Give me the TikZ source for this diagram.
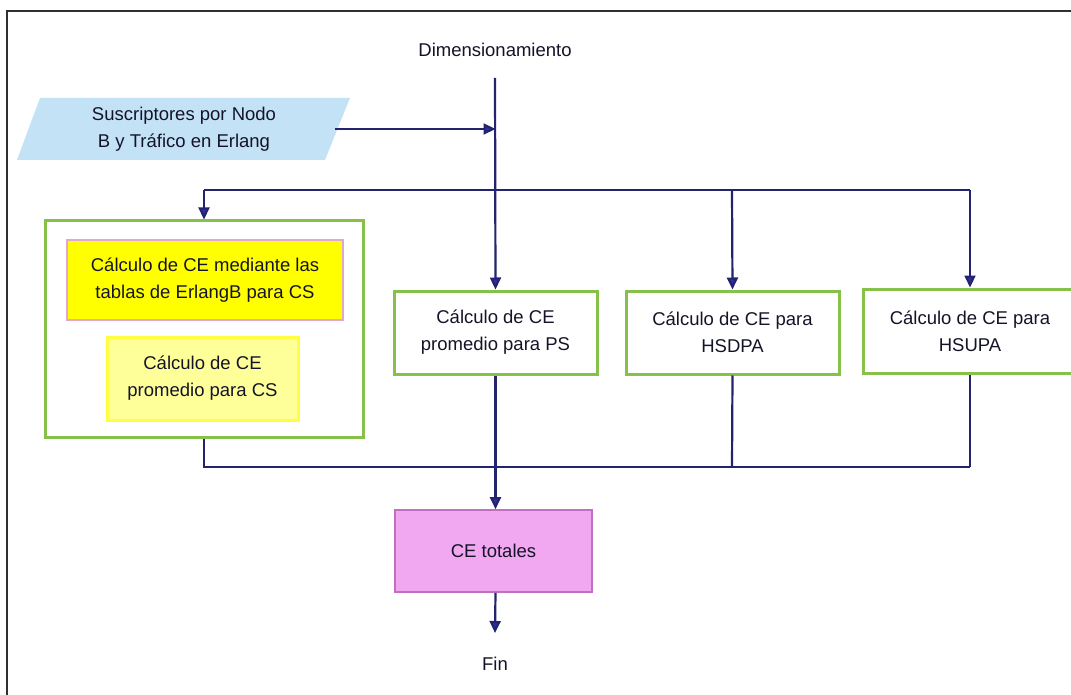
\documentclass[tikz,border=0pt]{standalone}
\usepackage{fontspec}
\setmainfont{Liberation Sans}
\usetikzlibrary{arrows.meta}

\definecolor{wire}{HTML}{23236E}
\definecolor{tipblue}{HTML}{2E2EA0}
\definecolor{txt}{HTML}{141428}
\definecolor{boxgreen}{HTML}{86C24A}
\definecolor{inputblue}{HTML}{C4E2F6}
\definecolor{ylwstrong}{HTML}{FFFF00}
\definecolor{ylwpale}{HTML}{FFFF99}
\definecolor{ylwedge}{HTML}{FFFF40}
\definecolor{pinkedge}{HTML}{E0A8D0}
\definecolor{violetfill}{HTML}{F2A8F0}
\definecolor{violetedge}{HTML}{C070C0}
\definecolor{framegray}{HTML}{303030}

\tikzset{
  every node/.style={font=\fontsize{18.5}{27}\selectfont, text=txt, align=center, inner sep=0pt},
  wireline/.style={draw=wire, line width=2.2pt},
  flow/.style={wireline, -{Triangle[length=12pt,width=11pt,fill=tipblue]}},
  procbox/.style={draw=boxgreen, line width=3pt, fill=white},
  calcstrong/.style={draw=pinkedge, line width=2.4pt, fill=ylwstrong},
  calcpale/.style={draw=ylwedge, line width=3pt, fill=ylwpale},
  totalbox/.style={draw=violetedge, line width=1.6pt, fill=violetfill},
  plainlabel/.style={},
}

\begin{document}
\begin{tikzpicture}[x=1pt,y=-1pt]
  % page extent
  \useasboundingbox (0,0) rectangle (1071,695);
  \fill[white] (0,0) rectangle (1071,695);

  % outer frame (top and left rules)
  \draw[framegray, line width=2.2pt] (7,695) -- (7,11) -- (1071,11);

  % start label
  \node[plainlabel] (dim) at (495,50) {Dimensionamiento};

  % input parallelogram
  \fill[inputblue] (40,98) -- (350,98) -- (325,160) -- (17,160) -- cycle;
  \node[minimum width=302pt, minimum height=50pt] (subs) at (184,129)
    {Suscriptores por Nodo\\B y Tráfico en Erlang};

  % CS group
  \node[procbox, minimum width=318pt, minimum height=216pt] (cs) at (204,329) {};
  \node[calcstrong, minimum width=276pt, minimum height=80pt] (erlb) at (205,280)
    {Cálculo de CE mediante las\\tablas de ErlangB para CS};
  \node[calcpale, minimum width=191pt, minimum height=83pt] (cspr) at (202.5,378.5)
    {Cálculo de CE\\promedio para CS};

  % other calculation boxes
  \node[procbox, minimum width=203pt, minimum height=83pt] (ps) at (495.5,332.5)
    {Cálculo de CE\\promedio para PS};
  \node[procbox, minimum width=213pt, minimum height=83pt] (hsd) at (732.5,332.5)
    {Cálculo de CE para\\HSDPA};
  \node[procbox, minimum width=214pt, minimum height=84pt] (hsu) at (970,331)
    {Cálculo de CE para\\HSUPA};

  % total
  \node[totalbox, minimum width=197pt, minimum height=82pt] (tot) at (493.5,551) {CE totales};

  % end label
  \node[plainlabel] (fin) at (495,664) {Fin};

  % junction points
  \coordinate (splitL) at (204,190);
  \coordinate (splitD) at (732,190);
  \coordinate (splitR) at (970,190);
  \coordinate (joinL) at (204,467);
  \coordinate (joinD) at (732,467);
  \coordinate (joinR) at (970,467);
  \coordinate (finTip) at (495,633);

  % incoming connections
  \draw[flow] (dim.south |- 0,78) -- (ps.north);
  \draw[flow] (subs.east) -- (subs.east -| ps.north);
  \draw[wireline] (splitL) -- (splitR);
  \draw[flow] (splitL) -- (cs.north -| splitL);
  \draw[flow] (splitD) -- (hsd.north);
  \draw[flow] (splitR) -- (hsu.north);

  % outgoing connections
  \draw[wireline] (cs.south -| joinL) -- (joinL) -- (joinR);
  \draw[wireline] (hsd.south) -- (joinD);
  \draw[wireline] (hsu.south) -- (joinR);
  \draw[flow] (ps.south) -- (tot.north -| ps.south);
  \draw[flow] (tot.south -| ps.south) -- (finTip);
\end{tikzpicture}
\end{document}
